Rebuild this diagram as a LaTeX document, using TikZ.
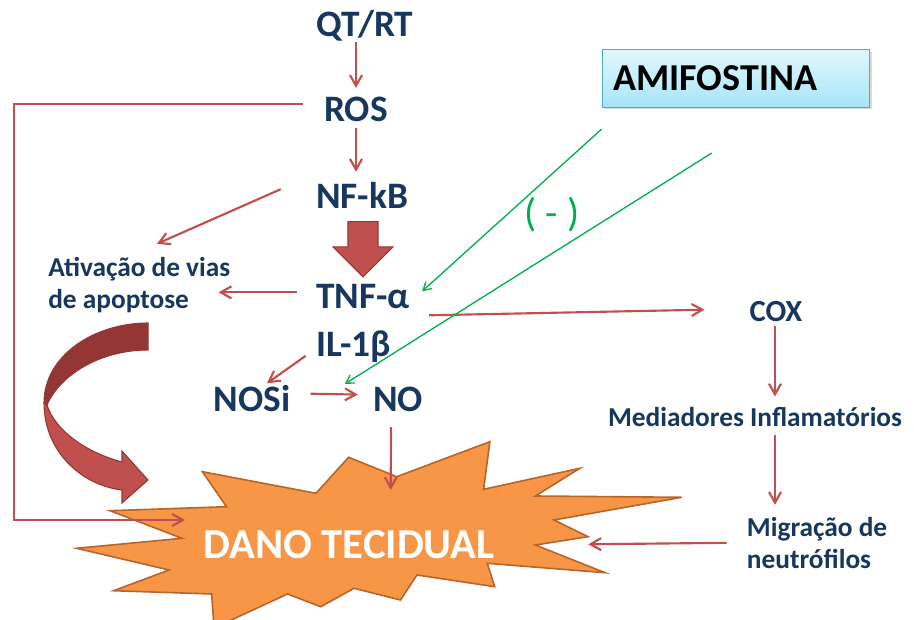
\documentclass[tikz,border=0pt]{standalone}
\usepackage{fontspec}
\setmainfont{Carlito}
\usetikzlibrary{arrows.meta,calc,shadows}
\definecolor{navy}{HTML}{17375E}
\definecolor{brick}{HTML}{C0504D}
\definecolor{brickdark}{HTML}{943634}
\definecolor{leaf}{HTML}{00B050}
\definecolor{burstfill}{HTML}{F79646}
\definecolor{burstline}{HTML}{B7652A}
\definecolor{skytop}{HTML}{E2F7FD}
\definecolor{skybot}{HTML}{A6E5F8}
\definecolor{skyline}{HTML}{4BACC6}
\tikzset{
  bigtxt/.style={text=navy,font=\bfseries\fontsize{28}{32}\selectfont,inner sep=0pt,anchor=base},
  smalltxt/.style={text=navy,font=\bfseries\fontsize{20.5}{24}\selectfont,inner sep=0pt,align=left},
  redarr/.style={draw=brick,line width=1.6pt,-{Straight Barb[length=8pt,width=9pt]}},
  greenarr/.style={draw=leaf,line width=1pt,-{Straight Barb[length=6pt,width=7pt]}},
  fatarr/.style={fill=brick,draw=brickdark,line width=0.8pt},
  burst/.style={fill=burstfill,draw=burstline,line width=1.2pt},
  amibox/.style={anchor=north west,text=black,font=\bfseries\fontsize{28.5}{32}\selectfont,
    top color=skytop,bottom color=skybot,draw=skyline,line width=1pt,text width=184pt,
    inner xsep=8.25pt,minimum height=43.3pt,align=left,
    drop shadow={shadow xshift=1.5pt,shadow yshift=-1.5pt,opacity=0.3}}
}
\begin{document}
\begin{tikzpicture}[x=0.75pt,y=-0.75pt]
\useasboundingbox (0,0) rectangle (914,620);
\filldraw[burst] (202.4,471.7) -- (226.5,506.7) -- (110,510.7) -- (182,538.3) -- (76.6,548.3) -- (169.1,570) -- (113.6,590.7) -- (211.7,594) -- (214,628) -- (287.5,594) -- (320.8,606.7) -- (354.1,588.3) -- (400.4,600) -- (417,575) -- (494.7,586.7) -- (487.3,563.3) -- (605,572.7) -- (535.4,545) -- (588,536.7) -- (553.9,520) -- (681.7,497.3) -- (535.4,496) -- (579.8,468.3) -- (483.6,489.3) -- (489.9,441.7) -- (396.7,476.7) -- (348.6,457.3) -- (316,493.3) -- cycle;
\coordinate (burstW) at (185,520);
\coordinate (burstN) at (390.7,490);
\coordinate (burstE) at (588.3,544.3);
\filldraw[fill=brickdark,draw=brickdark,line width=0.8pt] (148,323) .. controls (95,323) and (44,355) .. (44,403) -- (47,405) .. controls (60,375) and (100,350) .. (148,350) -- cycle;
\filldraw[fatarr] (44,403) .. controls (44,450) and (80,485) .. (122,490) -- (122,503) -- (148,480) -- (122,451) -- (122,462) .. controls (85,452) and (55,430) .. (47,405) -- cycle;
\node[bigtxt] (qtrt) at (365,37) {QT/RT};
\node[bigtxt] (ros) at (356,121.7) {ROS};
\node[bigtxt] (nfkb) at (362,208.3) {NF-kB};
\node[bigtxt] (tnf) at (363,308.3) {TNF-α};
\node[bigtxt] (il1b) at (354,356.7) {IL-1β};
\node[bigtxt] (nosi) at (252,411.7) {NOSi};
\node[bigtxt] (no) at (398,411.7) {NO};
\node[bigtxt,font=\bfseries\fontsize{23}{26}\selectfont] (cox) at (776,321.7) {COX};
\node[smalltxt,anchor=base] (med) at (755,426) {Mediadores Inflamatórios};
\node[smalltxt,anchor=base west] (ativ) at (48,308.3) {Ativação de vias\\de apoptose};
\node[smalltxt,anchor=base west] (mig) at (746.7,568.3) {Migração de\\neutrófilos};
\node[amibox] (amif) at (601.7,49) {AMIFOSTINA};
\node[text=white,font=\bfseries\fontsize{32}{36}\selectfont,anchor=base] (dano) at (349,558.3) {DANO TECIDUAL};
\node[text=leaf,font=\fontsize{30}{34}\selectfont] (minus) at (552,215) {( - )};
\draw[redarr] (qtrt.south -| ros.north) -- ($(ros.north)+(0,-9)$);
\draw[redarr] ($(ros.south)+(0,6)$) -- ($(nfkb.north -| ros.south)+(0,-10)$);
\draw[redarr] ($(nfkb.west)+(-35,-6)$) -- ($(ativ.north west)+(109,-13)$);
\draw[redarr] ($(tnf.west)+(-19,-4)$) -- ($(ativ.east |- tnf.west)+(-12,-4)$);
\draw[redarr] ($(tnf.base east)+(19,7)$) -- ($(cox.base west)+(-45,-12)$);
\draw[redarr] ($(il1b.west)+(-11,9)$) -- ($(nosi.north)+(15,-2)$);
\draw[redarr] ($(nosi.east)+(20,-5)$) -- ($(no.west)+(-15,-5)$);
\draw[redarr] ($(no.south)+(-7,15)$) -- (burstN);
\draw[redarr] ($(cox.south)+(-1,4)$) -- ($(cox.south |- med.north)+(-1,-10)$);
\draw[redarr] ($(cox.south |- med.south)+(-1,9)$) -- ($(cox.south |- mig.north)+(-1,-12)$);
\draw[redarr] ($(mig.west)+(-20,0)$) -- (burstE);
\draw[redarr] ($(ros.west)+(-21,-6)$) -| ($(burstW)+(-171,0)$) -- (burstW);
\draw[greenarr] ($(amif.south west)+(0,21)$) -- ($(tnf.east)+(12,-5)$);
\draw[greenarr] ($(amif.south west)+(110,45)$) -- ($(no.north west)+(-28,-3)$);
\filldraw[fatarr] let \p1=($(nfkb.south)+(1,13)$), \p2=($(tnf.north)+(0,-7)$) in (\x1-11.25pt,\y1) -- (\x1+11.25pt,\y1) -- (\x1+11.25pt,\y2+22.5pt) -- (\x1+22.5pt,\y2+22.5pt) -- (\x1,\y2) -- (\x1-22.5pt,\y2+22.5pt) -- (\x1-11.25pt,\y2+22.5pt) -- cycle;
\end{tikzpicture}
\end{document}
